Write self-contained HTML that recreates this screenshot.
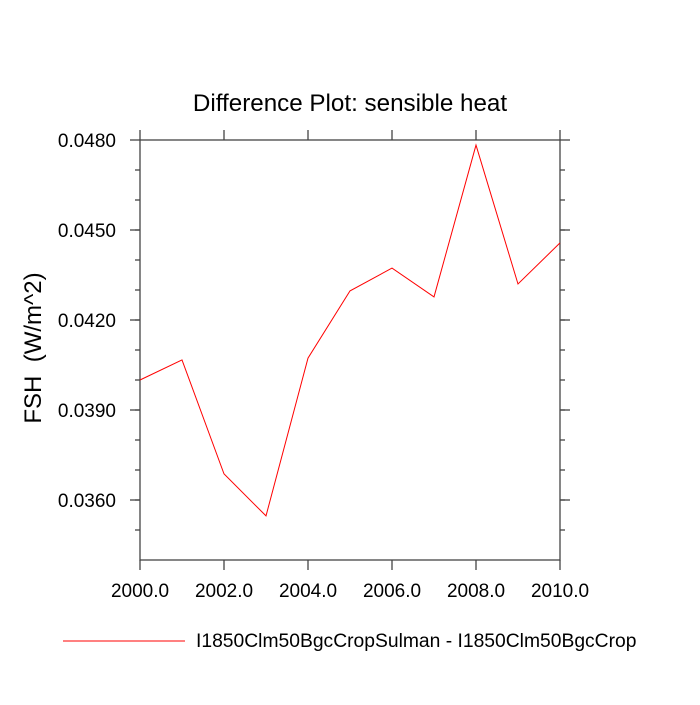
<!DOCTYPE html>
<html><head><meta charset="utf-8"><style>
body{margin:0;background:#fff}
svg text{font-family:"Liberation Sans",sans-serif;fill:#000}
</style></head><body>
<svg id="chart" width="700" height="700">
<text x="350" y="111" font-size="24.2" text-anchor="middle">Difference Plot: sensible heat</text>
<text transform="translate(41,348) rotate(-90)" font-size="24" text-anchor="middle" xml:space="preserve">FSH  (W/m^2)</text>
<g id="axes"></g>
<g id="series"></g>
<line x1="63" y1="641" x2="185" y2="641" stroke="#ff0000" stroke-width="1"/>
<text x="196" y="647" font-size="19.3">I1850Clm50BgcCropSulman - I1850Clm50BgcCrop</text>
</svg>
<script>
const years=[2000,2001,2002,2003,2004,2005,2006,2007,2008,2009,2010];
const fshDiff=[0.0400,0.04067,0.03687,0.03547,0.04073,0.04297,0.04373,0.04277,0.04783,0.0432,0.04457];
const xTicks=[2000,2002,2004,2006,2008,2010];
const xTickLabels=["2000.0","2002.0","2004.0","2006.0","2008.0","2010.0"];
const yTicks=[0.036,0.039,0.042,0.045,0.048];
const yTickLabels=["0.0360","0.0390","0.0420","0.0450","0.0480"];
const L=140,R=560,T=140,B=560,xMin=2000,xMax=2010,yMin=0.034,yMax=0.048;
const xs=v=>L+(v-xMin)/(xMax-xMin)*(R-L);
const ys=v=>B-(v-yMin)/(yMax-yMin)*(B-T);
const NS="http://www.w3.org/2000/svg";
const ax=document.getElementById('axes');
function ln(x1,y1,x2,y2,name){const l=document.createElementNS(NS,'line');
l.setAttribute('x1',x1);l.setAttribute('y1',y1);l.setAttribute('x2',x2);l.setAttribute('y2',y2);
l.setAttribute('stroke','#444');l.setAttribute('stroke-width','1.3');


ax.appendChild(l);}
function tx(x,y,s,anchor,name){const t=document.createElementNS(NS,'text');
t.setAttribute('x',x);t.setAttribute('y',y);t.setAttribute('font-size','19');t.setAttribute('text-anchor',anchor);t.textContent=s;


ax.appendChild(t);}
const frame=document.createElementNS(NS,'rect');
frame.setAttribute('x',L);frame.setAttribute('y',T);frame.setAttribute('width',R-L);frame.setAttribute('height',B-T);
frame.setAttribute('fill','none');frame.setAttribute('stroke','#444');frame.setAttribute('stroke-width','1.3');


ax.appendChild(frame);
xTicks.forEach((v,i)=>{const x=xs(v);ln(x,B,x,B+10,'x-tick');ln(x,T,x,T-10,'x-tick-top');tx(x,B+37,xTickLabels[i],'middle','x-tick-label');});
yTicks.forEach((v,i)=>{const y=ys(v);ln(L,y,L-10,y,'y-tick');ln(R,y,R+10,y,'y-tick-right');tx(L-24,y+7,yTickLabels[i],'end','y-tick-label');});
for(let v=yMin+0.001;v<yMax-0.0001;v+=0.001){const y=ys(v);
ln(L,y,L-5,y,'y-minor-tick');ln(R,y,R+5,y,'y-minor-tick-right');}
const p=document.createElementNS(NS,'polyline');
p.setAttribute('points',years.map((y,i)=>xs(y)+','+ys(fshDiff[i])).join(' '));
p.setAttribute('fill','none');p.setAttribute('stroke','#ff0000');p.setAttribute('stroke-width','1');


document.getElementById('series').appendChild(p);
</script>
</body></html>
